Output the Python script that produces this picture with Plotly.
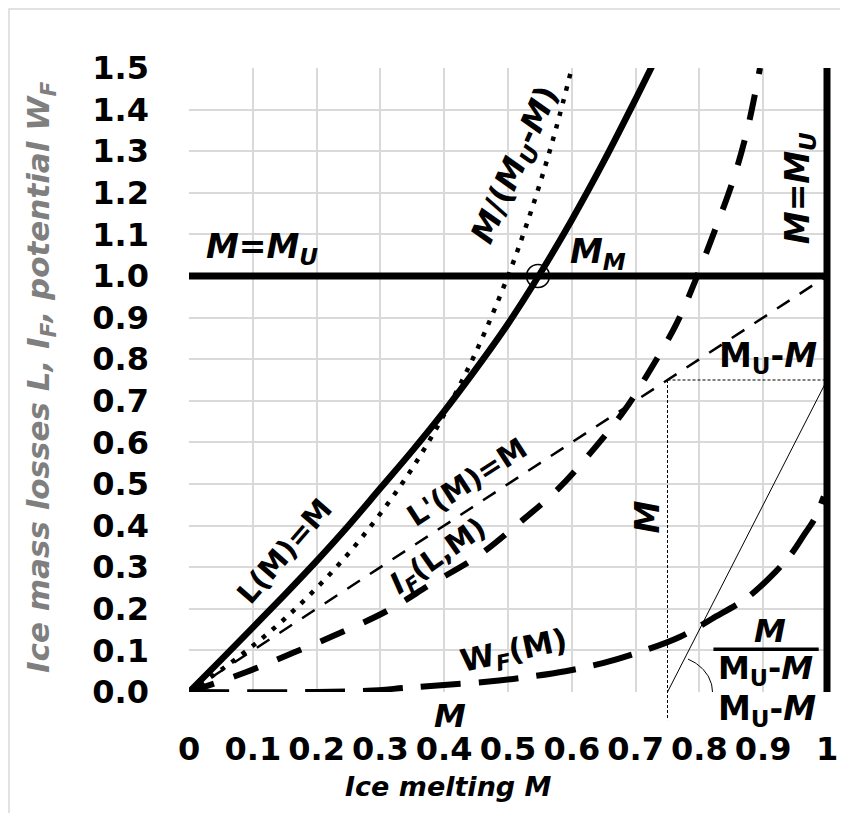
import numpy as np
import plotly.graph_objects as go

# ---------------- data ----------------
x_tick_vals = [0, 0.1, 0.2, 0.3, 0.4, 0.5, 0.6, 0.7, 0.8, 0.9, 1.0]
x_tick_text = ["0", "0.1", "0.2", "0.3", "0.4", "0.5", "0.6", "0.7", "0.8", "0.9", "1"]
y_tick_vals = [0, 0.1, 0.2, 0.3, 0.4, 0.5, 0.6, 0.7, 0.8, 0.9, 1.0, 1.1, 1.2, 1.3, 1.4, 1.5]
y_tick_text = ["0.0", "0.1", "0.2", "0.3", "0.4", "0.5", "0.6", "0.7", "0.8", "0.9",
               "1.0", "1.1", "1.2", "1.3", "1.4", "1.5"]

M_U = 1.0          # upper melting limit
M_M = 0.547        # intersection L(M)=M_U
M_T = 0.75         # construction point for the tangent

# L(M) solid
L_M = [0, 0.05, 0.1, 0.15, 0.2, 0.25, 0.3, 0.35, 0.4, 0.45, 0.5, 0.55, 0.6, 0.65, 0.7, 0.75]
L_val = [0, 0.077, 0.155, 0.234, 0.315, 0.4, 0.49, 0.58, 0.675, 0.777, 0.885, 1.005,
         1.135, 1.275, 1.425, 1.58]

# M/(M_U-M) dotted
R_M = [0, 0.05, 0.1, 0.15, 0.2, 0.25, 0.3, 0.35, 0.4, 0.45, 0.5, 0.525, 0.55, 0.575, 0.6]
R_val = [0, 0.053, 0.111, 0.176, 0.25, 0.333, 0.429, 0.538, 0.667, 0.818, 1.0, 1.105, 1.222, 1.353, 1.5]

# L'(M)=M thin dashed
Lp_M = [0, 1.0]
Lp_val = [0, 1.0]

# I_F(L,M) thick dashed
IF_M = [0, 0.09, 0.166, 0.24, 0.313, 0.38, 0.452, 0.514, 0.577, 0.63, 0.682, 0.724,
        0.764, 0.796, 0.826, 0.853, 0.875, 0.895]
IF_val = [0, 0.048, 0.096, 0.144, 0.197, 0.26, 0.326, 0.402, 0.486, 0.576, 0.676, 0.777,
          0.885, 0.998, 1.117, 1.231, 1.351, 1.5]

# W_F(M) long dashed
WF_M = [0, 0.2, 0.28, 0.34, 0.4, 0.47, 0.53, 0.59, 0.65, 0.71, 0.77, 0.82, 0.876,
        0.92, 0.945, 0.965, 0.98, 0.995]
WF_val = [0, 0, 0.003, 0.01, 0.017, 0.025, 0.036, 0.05, 0.07, 0.098, 0.133, 0.176, 0.228,
          0.29, 0.334, 0.38, 0.415, 0.47]

# tangent construction
tan_M = [0.75, 1.0]
tan_val = [0.0, 0.75]

X_RANGE = [0, 1.0]
Y_RANGE = [0, 1.5]

FONT = "DejaVu Sans"

fig = go.Figure()

# M = M_U horizontal thick line
fig.add_trace(go.Scatter(x=[0, M_U], y=[1.0, 1.0], mode="lines",
                         line=dict(color="black", width=7), hoverinfo="skip"))
# L'(M)=M thin dashed
fig.add_trace(go.Scatter(x=Lp_M, y=Lp_val, mode="lines",
                         line=dict(color="black", width=2.5, dash="15px,12px"), hoverinfo="skip"))
# M/(M_U-M) dotted
fig.add_trace(go.Scatter(x=R_M, y=R_val, mode="lines", line_shape="spline",
                         line=dict(color="black", width=4.5, dash="4.5px,8.5px"), hoverinfo="skip"))
# L(M) solid
fig.add_trace(go.Scatter(x=L_M, y=L_val, mode="lines", line_shape="spline",
                         line=dict(color="black", width=6.5), hoverinfo="skip"))
# I_F thick dashed
fig.add_trace(go.Scatter(x=IF_M, y=IF_val, mode="lines", line_shape="spline",
                         line=dict(color="black", width=6, dash="26px,21px"), hoverinfo="skip"))
# W_F long dashed
fig.add_trace(go.Scatter(x=WF_M, y=WF_val, mode="lines", line_shape="spline",
                         line=dict(color="black", width=6, dash="40px,18px"), hoverinfo="skip"))
# tangent thin line
fig.add_trace(go.Scatter(x=tan_M, y=tan_val, mode="lines",
                         line=dict(color="black", width=1), hoverinfo="skip"))
# horizontal dotted guide at y = M_T
fig.add_trace(go.Scatter(x=[M_T, M_U], y=[tan_val[1], tan_val[1]], mode="lines",
                         line=dict(color="black", width=1, dash="3px,2px"), hoverinfo="skip"))
# angle arc at tangent base (pixel radii converted to data)
px_x = 638 / (X_RANGE[1] - X_RANGE[0])
px_y = 624 / (Y_RANGE[1] - Y_RANGE[0])
t = np.linspace(0, np.arctan2(3 * px_y, px_x), 30)
fig.add_trace(go.Scatter(x=tan_M[0] + 45 / px_x * np.cos(t), y=37 / px_y * np.sin(t),
                         mode="lines", line=dict(color="black", width=1), hoverinfo="skip"))
# M_M open circle
fig.add_trace(go.Scatter(x=[M_M], y=[1.0], mode="markers",
                         marker=dict(symbol="circle-open", size=23, color="black",
                                     line=dict(width=1.5)), hoverinfo="skip"))

shapes = []
# outer light border of chart area
shapes.append(dict(type="rect", xref="paper", yref="paper",
                   x0=(9 - 189) / 638, x1=(853 - 189) / 638,
                   y0=(692 - 818) / 624, y1=(692 - 9) / 624,
                   line=dict(color="#d9d9d9", width=1.5), layer="above"))
# vertical thick line M = M_U (not clipped horizontally)
shapes.append(dict(type="line", xref="paper", yref="y",
                   x0=(M_U - X_RANGE[0]) / (X_RANGE[1] - X_RANGE[0]),
                   x1=(M_U - X_RANGE[0]) / (X_RANGE[1] - X_RANGE[0]),
                   y0=0, y1=1.5, line=dict(color="black", width=7)))
# vertical dotted guide at M_T extending below axis
shapes.append(dict(type="line", xref="x", yref="paper",
                   x0=M_T, x1=M_T, y0=tan_val[1] / Y_RANGE[1], y1=-0.045,
                   line=dict(color="black", width=1, dash="3px,2px")))
# fraction bar
shapes.append(dict(type="line", xref="x", yref="y", x0=0.822, x1=0.987, y0=0.103, y1=0.103,
                   line=dict(color="black", width=3.5)))


def ann(text, x, y, size=32, angle=0, color="black", xref="x", yref="y"):
    return dict(text=text, x=x, y=y, xref=xref, yref=yref, showarrow=False,
                textangle=angle, xanchor="center", yanchor="middle",
                font=dict(family=FONT, size=size, color=color, weight="bold"))


annotations = [
    ann("<i>M=M<sub>U</sub></i>", 0.114, 1.065, size=33),
    ann("<i>M=M<sub>U</sub></i>", 0.957, 1.21, size=33, angle=-90),
    ann("<i>M</i>/(<i>M<sub>U</sub></i>-<i>M</i>)", 0.513, 1.267, size=32, angle=-66),
    ann("<i>M<sub>M</sub></i>", 0.641, 1.055, size=33),
    ann("L(M)=M", 0.150, 0.339, size=29, angle=-49),
    ann("L'(M)=M", 0.436, 0.505, size=29, angle=-33),
    ann("<i>I</i><sub><i>F</i></sub>(L,M)", 0.392, 0.325, size=29, angle=-35),
    ann("W<sub><i>F</i></sub>(M)", 0.509, 0.096, size=31, angle=-12),
    ann("M<sub>U</sub>-<i>M</i>", 0.907, 0.805, size=33),
    ann("<i>M</i>", 0.719, 0.421, size=33, angle=-90),
    ann("<i>M</i>", 0.409, (692 - 716) / 624, size=32, yref="paper"),
    ann("<i>M</i>", 0.911, 0.146, size=32),
    ann("M<sub>U</sub>-<i>M</i>", 0.903, 0.052, size=32),
    ann("M<sub>U</sub>-<i>M</i>", 0.906, (692 - 711) / 624, size=33, yref="paper"),
    # axis titles
    ann("<i>Ice mass losses L, I<sub>F</sub>, potential W<sub>F</sub></i>",
        (40 - 189) / 638, (692 - 378) / 624, size=31, angle=-90, color="#7f7f7f",
        xref="paper", yref="paper"),
    ann("<i>Ice melting M</i>", (448 - 189) / 638, (692 - 786) / 624, size=27,
        xref="paper", yref="paper"),
]

fig.update_layout(
    width=848, height=813,
    margin=dict(l=181, r=29, t=60, b=129),
    paper_bgcolor="white", plot_bgcolor="white",
    showlegend=False,
    shapes=shapes, annotations=annotations,
    font=dict(family=FONT, color="black"),
)
fig.update_xaxes(range=X_RANGE, tickvals=x_tick_vals, ticktext=x_tick_text,
                 showgrid=True, gridcolor="#d9d9d9", gridwidth=1.5,
                 zeroline=False, showline=False, ticks="",
                 ticklabelstandoff=35,
                 tickfont=dict(family=FONT, size=32, color="black", weight="bold"))
fig.update_yaxes(range=Y_RANGE, tickvals=y_tick_vals, ticktext=y_tick_text,
                 showgrid=True, gridcolor="#d9d9d9", gridwidth=1.5,
                 zeroline=False, showline=False, ticks="",
                 ticklabelstandoff=39,
                 tickfont=dict(family=FONT, size=32, color="black", weight="bold"))

fig.write_html("out.html")
